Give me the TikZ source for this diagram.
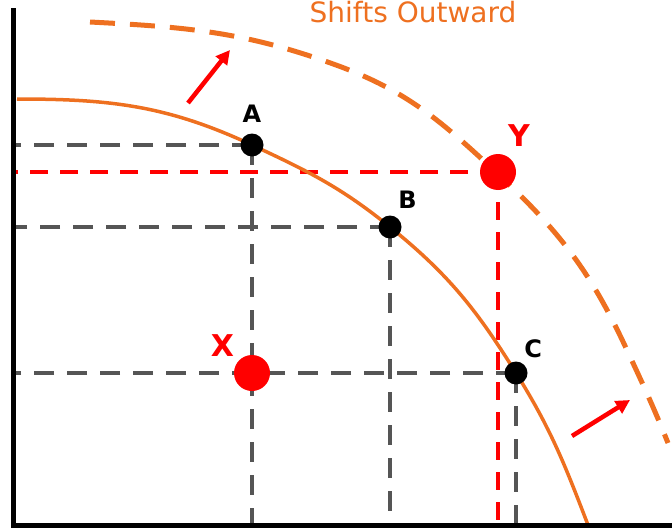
\documentclass[tikz,border=0pt]{standalone}
\usepackage{fontspec}
\setmainfont{DejaVu Sans}
\usepackage{tikz}
\usetikzlibrary{arrows.meta, positioning}
\definecolor{ppforange}{RGB}{238,112,32}
\definecolor{guidegray}{RGB}{85,85,85}

\begin{document}
\begin{tikzpicture}[
        x=1pt, y=-1pt,
        >={Triangle[length=14pt, width=14pt]},
        axis/.style={line width=5pt, black},
        frontier/.style={line width=3.5pt, ppforange},
        shifted/.style={line width=5pt, ppforange, dash pattern=on 25pt off 15pt},
        guide/.style={line width=3.5pt, guidegray, dash pattern=on 20pt off 13pt},
        redguide/.style={line width=3.5pt, red, dash pattern=on 18pt off 12pt},
        onpt/.style={circle, fill=black, minimum size=23pt, inner sep=0pt},
        offpt/.style={circle, fill=red, minimum size=36pt, inner sep=0pt},
        lbl/.style={font=\fontsize{24}{26}\selectfont\bfseries, inner sep=0pt},
        redlbl/.style={font=\fontsize{30}{32}\selectfont\bfseries, text=red, inner sep=0pt},
        move/.style={->, line width=4.5pt, red}
    ]
        \useasboundingbox (0,0) rectangle (672,530);

        % --- Achsen ---
        \coordinate (O) at (13,525);
        \coordinate (ytop) at (13,8);
        \coordinate (xend) at (672,525);

        % --- Punkte ---
        \coordinate (pA) at (252,145);
        \coordinate (pB) at (390,227);
        \coordinate (pC) at (516,373);
        \coordinate (pX) at (252,373);
        \coordinate (pY) at (498,172);

        % Hilfslinien
        \draw[guide] (pA) -- (pA -| O);
        \draw[guide] (pB) -- (pB -| O);
        \draw[guide] (pC) -- (pC -| O);
        \draw[guide] (pA) -- (pA |- O);
        \draw[guide] (pB) -- (pB |- O);
        \draw[guide] (pC) -- (pC |- O);
        \draw[redguide] (pY) -- (pY -| O);
        \draw[redguide] (pY) -- (pY |- O);

        % --- Kurven ---
        \coordinate (f0) at (17,99);
        \coordinate (f1) at (588,525);
        \draw[frontier] (f0) to[out=0, in=155] (pA) to[out=-25, in=141] (pB)
            to[out=-39, in=122] (pC) to[out=-58, in=111] (f1);
        \coordinate (g0) at (90,22);
        \coordinate (gm) at (336,65);
        \coordinate (gy) at (498,174);
        \coordinate (gl) at (626,348);
        \coordinate (g1) at (668,443);
        \draw[shifted] (g0) to[out=-3, in=160] (gm) to[out=-20, in=137] (gy)
            to[out=-43, in=115] (gl) to[out=-65, in=112] (g1);

        \draw[axis] (ytop) -- (O) -- (xend);

        % --- Verschiebung ---
        \node[font=\fontsize{28}{30}\selectfont, text=ppforange, anchor=base] (title) at (413,22) {Shifts Outward};
        \coordinate (a1) at (188,103);
        \coordinate (b1) at (230,50);
        \coordinate (a2) at (572,436);
        \coordinate (b2) at (630,400);
        \draw[move] (a1) -- (b1);
        \draw[move] (a2) -- (b2);

        \node[onpt] (A) at (pA) {};
        \node[onpt] (B) at (pB) {};
        \node[onpt] (C) at (pC) {};
        \node[offpt] (X) at (pX) {};
        \node[offpt] (Y) at (pY) {};

        \node[lbl, above=11pt of A] (labA) {A};
        \node[lbl, above right=10pt and 0pt of B] (labB) {B};
        \node[lbl, above right=7pt and 0pt of C] (labC) {C};
        \node[redlbl, above right=12pt and -3pt of Y] (labY) {Y};
        \node[redlbl, above left=3pt and 5pt of X] (labX) {X};
\end{tikzpicture}
\end{document}
